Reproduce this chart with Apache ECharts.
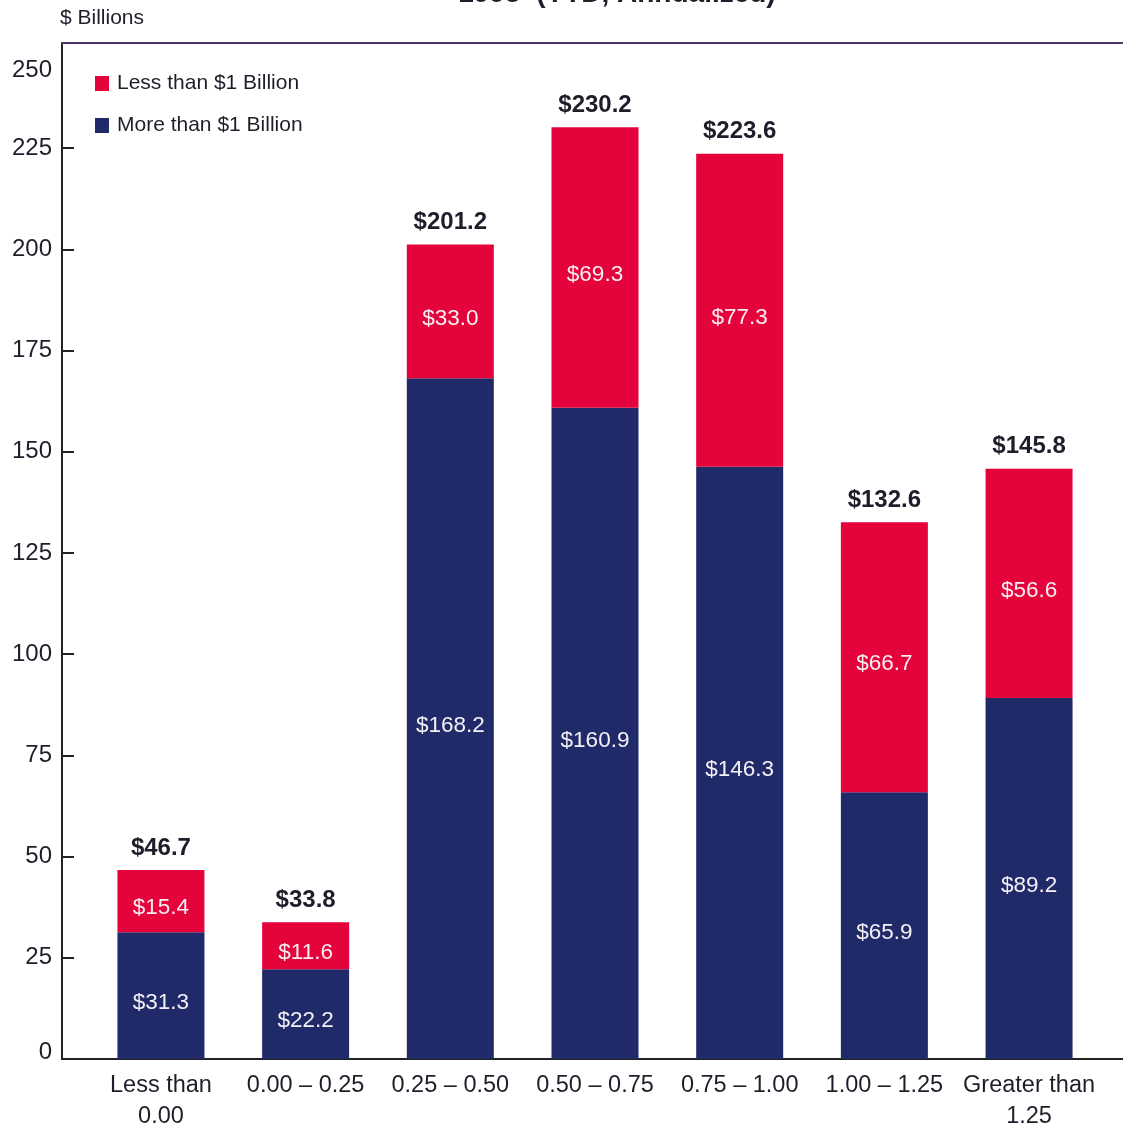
<!DOCTYPE html>
<html>
<head>
<meta charset="utf-8">
<script src="https://cdn.jsdelivr.net/npm/echarts@6/dist/echarts.min.js"></script>
<style>
html,body{margin:0;padding:0;background:#fff;}
#c{width:1123px;height:1129px;}
</style>
</head>
<body>
<div id="c"></div>
<script>
const categories = ['Less than\n0.00', '0.00 – 0.25', '0.25 – 0.50', '0.50 – 0.75', '0.75 – 1.00', '1.00 – 1.25', 'Greater than\n1.25'];
const lessThan1B = [15.4, 11.6, 33.0, 69.3, 77.3, 66.7, 56.6];
const moreThan1B = [31.3, 22.2, 168.2, 160.9, 146.3, 65.9, 89.2];
const totals = [46.7, 33.8, 201.2, 230.2, 223.6, 132.6, 145.8];
const yMin = 0, yMax = 250, yStep = 25;
const tickMarks = [25, 50, 75, 100, 125, 150, 175, 200, 225];

const FONT = '"Liberation Sans", Arial, sans-serif';
const RED = '#e5033b';
const NAVY = '#202a68';
const INK = '#1e1e2a';

const chart = echarts.init(document.getElementById('c'));
chart.setOption({
  animation: false,
  backgroundColor: '#ffffff',
  textStyle: { fontFamily: FONT },
  title: {
    text: '1995  (YTD, Annualized)',
    left: 612, textAlign: 'center', top: -25,
    textStyle: { fontFamily: FONT, fontSize: 28, fontWeight: 'bold', color: INK }
  },
  graphic: [{
    type: 'text', left: 60, top: 8,
    style: { text: '$ Billions', fontFamily: FONT, fontSize: 21, fill: INK }
  }],
  legend: {
    orient: 'vertical', left: 90, top: 68, itemGap: 21,
    itemWidth: 14, itemHeight: 15, icon: 'rect',
    textStyle: { fontFamily: FONT, fontSize: 21, color: INK, padding: [0, 0, 0, 3] },
    data: ['Less than $1 Billion', 'More than $1 Billion']
  },
  grid: [
    { left: 62, right: 0, top: 43, bottom: 70, outerBoundsMode: 'none' },
    { left: 88.6, right: 21.6, top: 47, bottom: 70, outerBoundsMode: 'none' }
  ],
  xAxis: [
    { gridIndex: 0, type: 'value', min: 0, max: 1, position: 'bottom',
      axisLine: { show: true, onZero: false, lineStyle: { color: '#222', width: 2 } },
      axisTick: { show: false }, axisLabel: { show: false }, splitLine: { show: false } },
    { gridIndex: 0, type: 'value', min: 0, max: 1, position: 'top',
      axisLine: { show: true, onZero: false, lineStyle: { color: '#4a3468', width: 2 } },
      axisTick: { show: false }, axisLabel: { show: false }, splitLine: { show: false } },
    { gridIndex: 1, type: 'category', data: categories,
      axisLine: { show: false }, axisTick: { show: false },
      axisLabel: { interval: 0, margin: 11, fontFamily: FONT, fontSize: 23.5, color: INK, lineHeight: 31 } }
  ],
  yAxis: [
    { gridIndex: 0, type: 'value', min: 0, max: 1,
      axisLine: { show: true, onZero: false, lineStyle: { color: '#222', width: 2 } },
      axisTick: { show: false }, axisLabel: { show: false }, splitLine: { show: false } },
    { gridIndex: 1, type: 'value', min: yMin, max: yMax, interval: yStep, offset: 26.6,
      axisLine: { show: false },
      axisTick: { show: true, inside: true, length: 12, customValues: tickMarks,
        lineStyle: { color: '#222', width: 2 } },
      splitLine: { show: false },
      axisLabel: {
        margin: 10, fontFamily: FONT, fontSize: 24, color: INK,
        formatter: function (v) {
          if (v === yMax) return '{t|' + v + '}';
          if (v === yMin) return '{b|' + v + '}';
          return v;
        },
        rich: {
          t: { fontFamily: FONT, fontSize: 24, color: INK, padding: [46, 0, 0, 0] },
          b: { fontFamily: FONT, fontSize: 24, color: INK, padding: [0, 0, 14, 0] }
        }
      } }
  ],
  series: [
    { name: 'More than $1 Billion', type: 'bar', stack: 's', xAxisIndex: 2, yAxisIndex: 1,
      barWidth: 87, data: moreThan1B, itemStyle: { color: NAVY },
      label: { show: true, position: 'inside', offset: [0, 7], color: '#f4f0f6',
        fontFamily: FONT, fontSize: 22.5,
        formatter: p => '$' + p.value.toFixed(1) } },
    { name: 'Less than $1 Billion', type: 'bar', stack: 's', xAxisIndex: 2, yAxisIndex: 1,
      barWidth: 87, data: lessThan1B, itemStyle: { color: RED },
      label: { show: true, position: 'inside', offset: [0, 7], color: '#f8eef2',
        fontFamily: FONT, fontSize: 22.5,
        formatter: p => '$' + p.value.toFixed(1) } },
    { name: 'totals', type: 'bar', stack: 's', xAxisIndex: 2, yAxisIndex: 1,
      barWidth: 87, data: totals.map(() => 0), itemStyle: { color: 'transparent' },
      label: { show: true, position: 'top', distance: 10, color: INK,
        fontFamily: FONT, fontSize: 24, fontWeight: 'bold',
        formatter: p => '$' + totals[p.dataIndex].toFixed(1) } }
  ]
});
</script>
</body>
</html>
